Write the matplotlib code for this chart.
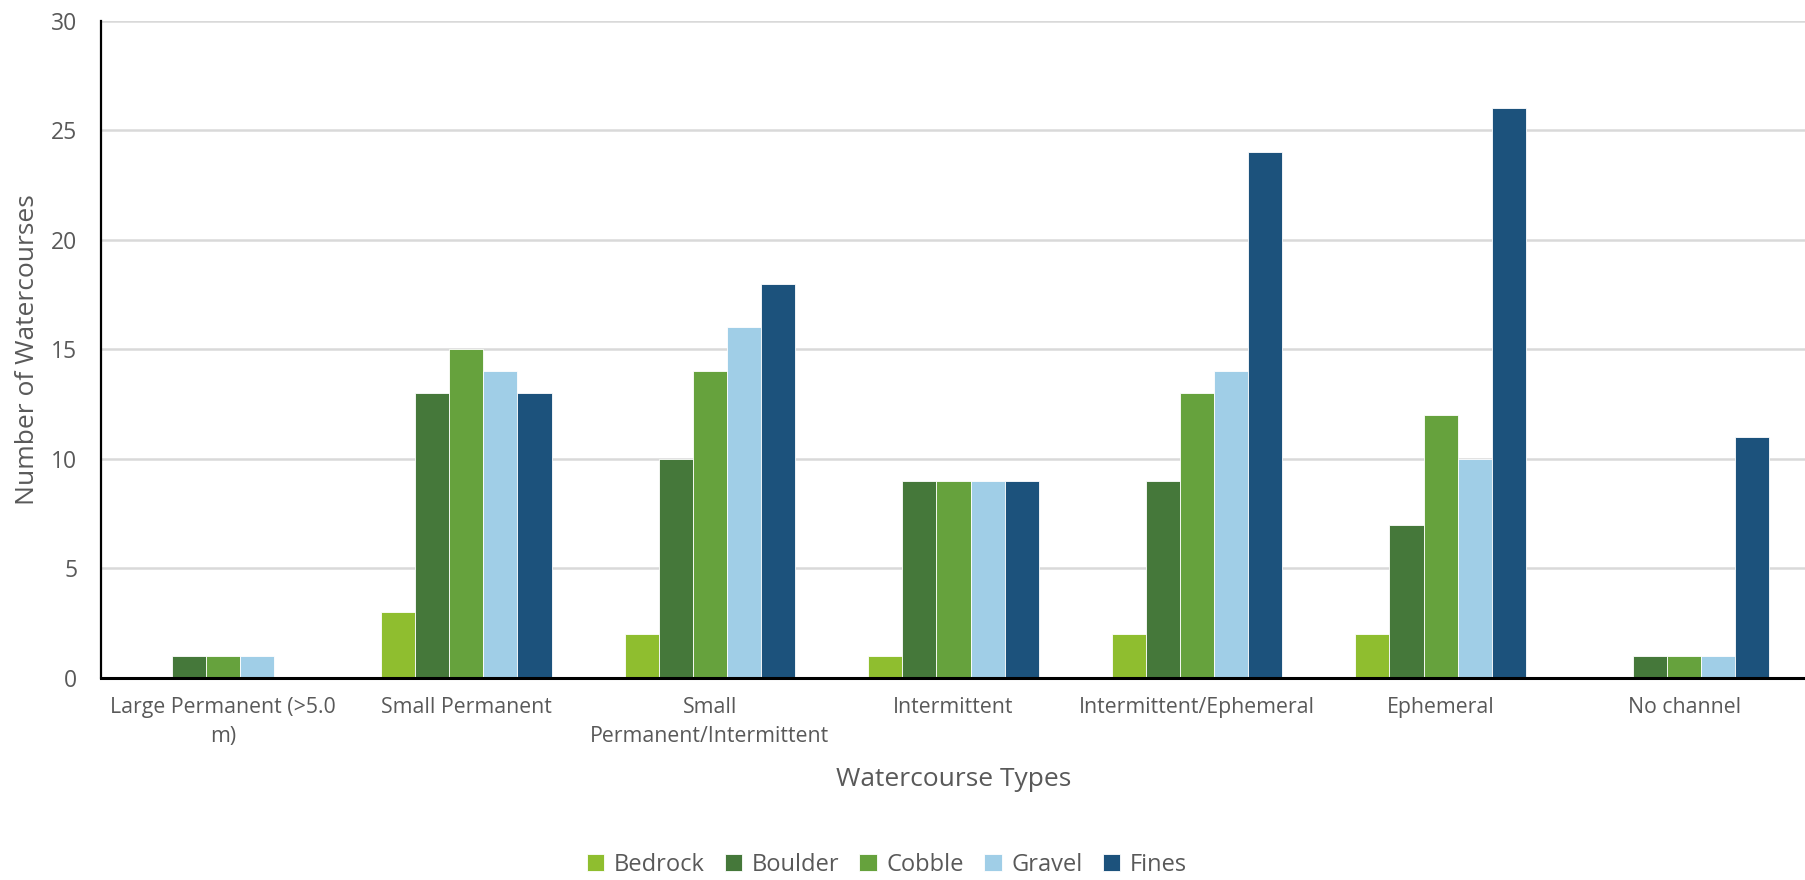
import matplotlib
matplotlib.use("Agg")
import matplotlib.pyplot as plt
import numpy as np

plt.rcParams['font.family'] = ['Open Sans', 'DejaVu Sans']

categories = [
    "Large Permanent (>5.0\nm)",
    "Small Permanent",
    "Small\nPermanent/Intermittent",
    "Intermittent",
    "Intermittent/Ephemeral",
    "Ephemeral",
    "No channel",
]
series_names = ["Bedrock", "Boulder", "Cobble", "Gravel", "Fines"]
bedrock = [0, 3, 2, 1, 2, 2, 0]
boulder = [1, 13, 10, 9, 9, 7, 1]
cobble = [1, 15, 14, 9, 13, 12, 1]
gravel = [1, 14, 16, 9, 14, 10, 1]
fines = [0, 13, 18, 9, 24, 26, 11]
colors = ["#8FBE2F", "#45783A", "#66A23D", "#A0CEE7", "#1C527C"]
yticks = [0, 5, 10, 15, 20, 25, 30]

series = [bedrock, boulder, cobble, gravel, fines]

fig = plt.figure(figsize=(18.06, 8.8), dpi=100)
ax = fig.add_axes([0.0559, 0.2295, 0.9441, 0.747])

x = np.arange(len(categories))
group_w = 0.70
bw = group_w / len(series)
for i, (vals, name, c) in enumerate(zip(series, series_names, colors)):
    offs = -group_w / 2 + bw * (i + 0.5)
    ax.bar(x + offs, vals, width=bw, color=c, label=name,
           edgecolor="white", linewidth=0.6, zorder=3)

ax.set_xlim(-0.5, len(categories) - 0.5)
ax.set_ylim(0, 30)
ax.set_yticks(yticks)
ax.set_xticks(x)
ax.set_xticklabels(categories, fontsize=15.3, color="#595959", linespacing=1.5)
ax.tick_params(axis="y", labelsize=16.5, labelcolor="#595959", length=0, pad=17)
ax.tick_params(axis="x", length=0, pad=14)

ax.grid(axis="y", color="#D9D9D9", linewidth=1.8, zorder=0)
ax.set_axisbelow(True)
for s in ["top", "right"]:
    ax.spines[s].set_visible(False)
ax.spines["left"].set_color("black")
ax.spines["left"].set_linewidth(1.6)
ax.spines["bottom"].set_color("black")
ax.spines["bottom"].set_linewidth(2.2)
ax.spines["bottom"].set_zorder(4)

ax.set_ylabel("Number of Watercourses", fontsize=19, color="#595959", labelpad=8)
ax.set_xlabel("Watercourse Types", fontsize=19, color="#595959", labelpad=14)

leg = fig.legend(loc="center", bbox_to_anchor=(0.491, 0.017), ncol=5, frameon=False,
                 fontsize=17, handlelength=0.75, handleheight=0.75,
                 handletextpad=0.4, columnspacing=0.85)
for t in leg.get_texts():
    t.set_color("#595959")

fig.savefig("out.png", dpi=100)
